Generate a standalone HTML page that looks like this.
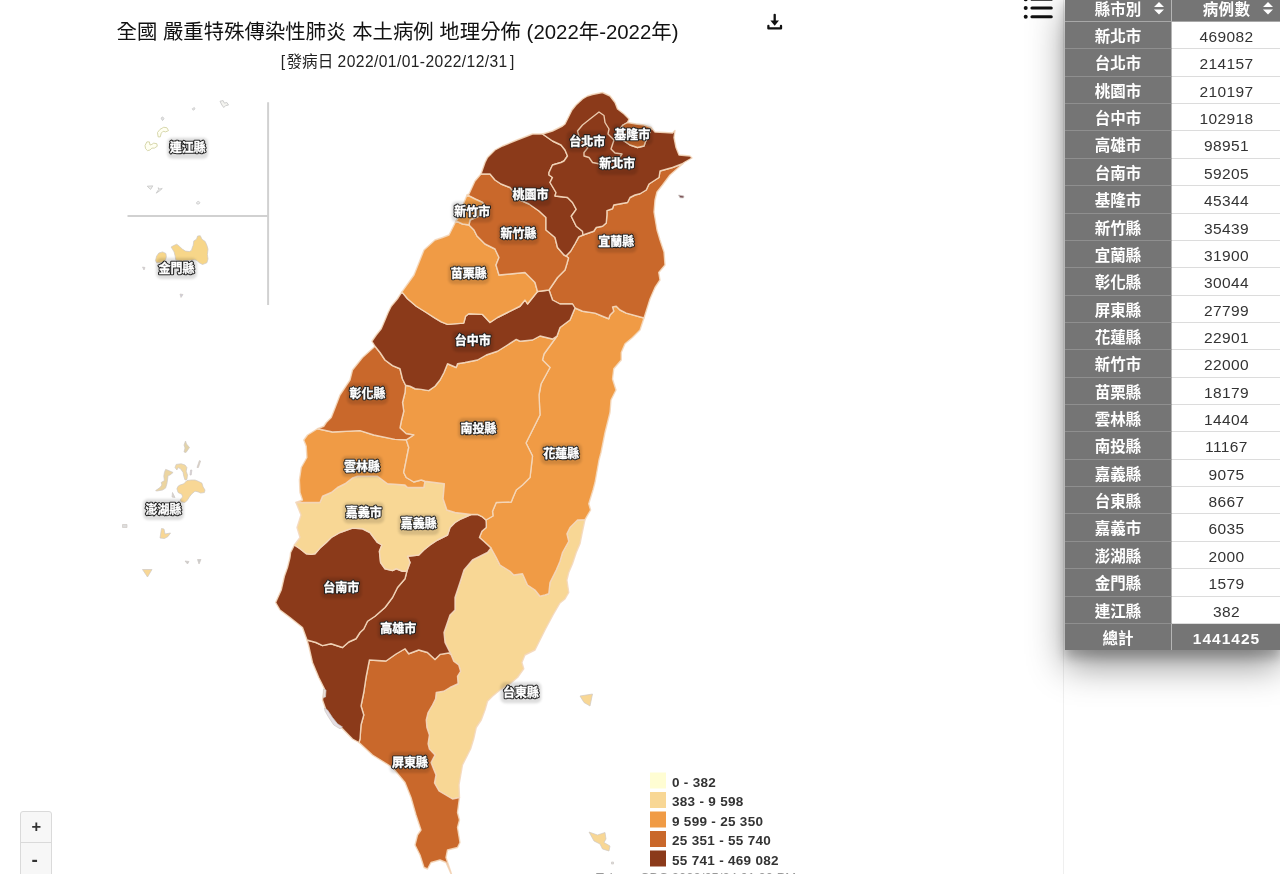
<!DOCTYPE html>
<html lang="zh-Hant"><head><meta charset="utf-8"><title>全國 嚴重特殊傳染性肺炎 本土病例 地理分佈</title>
<style>
html,body{margin:0;padding:0;background:#fff;}
body{width:1280px;height:874px;overflow:hidden;position:relative;font-family:"Liberation Sans","Noto Sans CJK TC",sans-serif;color:#333;}
#map{position:absolute;left:0;top:0;}
#title{position:absolute;left:0;top:16.5px;width:795px;text-align:center;font-size:20.4px;line-height:30px;color:#111;white-space:nowrap;}
#sub{position:absolute;left:0;top:50.1px;width:795px;text-align:center;font-size:15.6px;line-height:24px;color:#222;white-space:nowrap;}
#zoom{position:absolute;left:19.5px;top:811px;width:30.5px;border:1.3px solid #dadada;border-radius:3px;background:#f7f7f7;}
#zoom div{height:30.7px;line-height:28.6px;text-align:left;padding-left:11px;box-sizing:border-box;font-weight:bold;font-size:16.5px;color:#333;border-bottom:1.3px solid #dadada;}
#side{position:absolute;left:1063px;top:0;width:217px;height:874px;border-left:1px solid #efefef;}
#menu{position:absolute;left:1020px;top:-6px;}
#tbl{position:absolute;left:1065px;top:-5.37px;width:216px;box-shadow:0 16px 34px rgba(0,0,0,.42),0 8px 10px rgba(0,0,0,.2);font-size:15.5px;}
.r{display:flex;height:27.37px;line-height:29.4px;box-sizing:border-box;}
.r>div{box-sizing:border-box;text-align:center;white-space:nowrap;position:relative;}
.a{width:107px;background:#757575;color:#fff;font-weight:bold;border-bottom:1px solid #8f8f8f;border-right:1px solid #b5b5b5;}
.b{width:109px;background:#fff;color:#333;border-bottom:1px solid #dcdcdc;letter-spacing:.4px;}
.h .b,.t .b{background:#757575;color:#fff;font-weight:bold;border-bottom:1px solid #8f8f8f;}
.h .a,.h .b{border-bottom:1px solid #a8a8a8;}
.t{height:26.3px;line-height:29.4px;}
.t .b{letter-spacing:1px;}
.t .a,.t .b{border-bottom:0;}
.srt{position:absolute;top:7.8px;}
.h .a .srt{left:89.3px;}
.h .b .srt{left:90.8px;}
</style></head><body>
<svg id="map" width="1064" height="874" viewBox="0 0 1064 874">
<defs><filter id="lb" x="-20%" y="-40%" width="140%" height="200%"><feGaussianBlur stdDeviation="1.1"/></filter></defs>
<path d="M268.1 102.3V305M127.5 216H268.1" stroke="#d1d1d1" stroke-width="2" fill="none"/>
<polygon points="158.12,136.88 157.5,132.5 160,129.38 163.75,127.25 166.88,127.75 168.5,130.62 165.62,131.88 163.12,131.25 161.25,133.12 160.25,136.88" fill="#fffff2" stroke="#d3d3a4" stroke-width="0.9" stroke-linejoin="round"/>
<polygon points="145.62,148.75 145,145.62 146.88,141.88 149.38,141.88 150,145 151.88,144.38 153.75,143.12 156.88,143.75 157.25,146.25 154.38,148.12 151.88,148.12 150,150 147.5,150.62" fill="#fffff2" stroke="#d3d3a4" stroke-width="0.9" stroke-linejoin="round"/>
<polygon points="220,101.25 223.12,100.62 224.38,103.12 226.88,102.5 228.5,105 225.62,105.62 223.75,107.5 221.88,105" fill="#f4f4f0" stroke="#c8c8c8" stroke-width="0.9" stroke-linejoin="round"/>
<polygon points="192.25,108.75 194.38,107.5 195,109 193.12,110.25" fill="#e8e8e8" stroke="#cfcfcf" stroke-width="0.9" stroke-linejoin="round"/>
<polygon points="161,118.12 162.75,116.88 164,118.75 162.5,120.62" fill="#e4e4e4" stroke="#cccccc" stroke-width="0.9" stroke-linejoin="round"/>
<polygon points="147.25,186.25 152.75,185.88 150.62,189.38" fill="#f0f0ee" stroke="#c8c8c8" stroke-width="0.9" stroke-linejoin="round"/>
<polygon points="156.25,193.12 158.75,189.38 158.12,187.75 159.75,189 162.25,188.5 159.38,191" fill="#f0f0ee" stroke="#c8c8c8" stroke-width="0.9" stroke-linejoin="round"/>
<polygon points="196.5,202.5 198.12,201.25 200,202.5 199,204 196.88,204" fill="#ececec" stroke="#d0d0d0" stroke-width="0.9" stroke-linejoin="round"/>
<g stroke="#f4d8bc" stroke-opacity="0.9" stroke-width="1.4" stroke-linejoin="round">
<polygon points="585,519.6 582.5,531.25 580,543.75 576.25,552.5 572.5,563.75 568.75,572.5 566.9,580 568.75,592.5 565,599 560,603 553,615 545,630 540,640 535,650 525,655 521.9,662.5 523.75,668.75 517.5,677.5 510,683.75 500,690 492.5,696.25 487.5,701.25 485,710 481.25,720 476.25,727.5 473.75,738.75 470.6,749 462.5,765 459,785 459.5,797.5 459.5,797.5 452.5,799 439,791 434.5,783 436,775 431,762.5 435,755 429.4,749 428.1,743.75 429.4,735 426.9,727.5 426.25,720 428.1,712.5 432.5,705 435.6,698.75 436.25,692.5 443.75,691.25 450,687.5 458.1,683.75 457.5,676.25 460.6,671.25 458.75,665 453.75,661.25 451,654.5 451,654.5 445,642.5 444,632.5 450,615 455,610 455,597.5 460,582.5 464,570 472.5,560 487.5,552.5 491,548 491,548 496.25,557.5 500,565 510,571.25 513.75,575 522.5,573.75 527.5,585 535,590 540,596.25 545,595 548.75,593.75 550,582.5 556.25,570 560,561.25 562.5,552.5 568.75,541.25 566.9,533.75 570,527.5 577.5,520 585,519.6" fill="#f8d795"/>
<polygon points="644,318 640,330 632.5,337.5 625,343.75 621.25,352.5 621.25,360 613.75,368.75 612.5,379 616,390 611,400 610,412.5 605,432.5 601,452.5 599,460 595,482.5 593,490 588.75,503.75 590.6,510 585,519.6 585,519.6 577.5,520 570,527.5 566.9,533.75 568.75,541.25 562.5,552.5 560,561.25 556.25,570 550,582.5 548.75,593.75 545,595 540,596.25 535,590 527.5,585 522.5,573.75 513.75,575 510,571.25 500,565 496.25,557.5 491,548 491,548 483.75,541.25 479.4,537.5 481.9,531.25 486.25,527.5 486.25,523.75 486,520 486,520 493,516 492.5,511.25 496.25,502.5 511.25,502 513,497.5 516.25,490 522.5,485 530,477.5 532.5,456 526,443 532.5,430 540,415 539,395 541,384 550,367.5 542.5,360 544,354 557,336 557,336 560,327.5 570,320 575,308 575,308 582.5,311.25 595,313.1 602.5,316.25 608.75,318.75 610,315 613.75,311.25 612.5,306.9 616.25,306.25 620,310 626.25,313.1 644,318" fill="#f09b45"/>
<polygon points="683,163.5 678,168 670,175 662.5,185 657,192 655,200 654,212 657,230 660,240 664,252 665,265 658.75,272.5 660,280 655,287.5 650,299 644,318 644,318 626.25,313.1 620,310 616.25,306.25 612.5,306.9 613.75,311.25 610,315 608.75,318.75 602.5,316.25 595,313.1 582.5,311.25 575,308 575,308 572.5,304 560,304 552.5,300 549,290 549,290 557.5,277.5 560,275 565,270 566.9,263.75 568.5,258 566,256 566,256 570.6,251.25 575,243.75 578.75,236.9 583,235 583,235 593.75,231.25 596.25,227.5 602.5,226.25 606.25,223 606.9,215 606.9,210.6 612.5,208.75 613.75,205 627.5,202.5 630,197.5 635,195 640,193.75 646.25,190 649,184 659,177.5 660,171 672.5,167.5 683,163.5" fill="#c9682b"/>
<polygon points="459.5,797.5 457.5,812.5 459.5,820 457.5,827.5 460,842.5 457.5,847.5 447.5,850 446,857.5 451,872.5 452,876 446,862.5 440,860 431,862.5 427.5,869 424,867.5 420,855 415,845 417.5,835 421,830 416,815 411,797.5 405,782.5 392.5,767.5 372.5,755 359,742.5 359,742.5 360,739 361,725 363.75,715 361,706 363.75,692.5 366,677.5 369.4,660 386,661 396,654 405,648.75 408.75,653.75 418.75,650 427.5,652.5 435,659.4 440,654.4 448.75,653 451,654.5 451,654.5 453.75,661.25 458.75,665 460.6,671.25 457.5,676.25 458.1,683.75 450,687.5 443.75,691.25 436.25,692.5 435.6,698.75 432.5,705 428.1,712.5 426.25,720 426.9,727.5 429.4,735 428.1,743.75 429.4,749 435,755 431,762.5 436,775 434.5,783 439,791 452.5,799 459.5,797.5" fill="#c9682b"/>
<polygon points="359,742.5 352.5,739 342.5,728.75 333.75,722.5 326,710 322.5,700 324.4,688.75 318.75,677.5 312.5,662.5 308.75,646 307,640 307,640 316,642.5 322.5,645.6 331,643.75 342.5,647.5 348.75,642 356,638.75 360,632.5 363.75,629 367.5,621.25 375,616.25 385,607.5 392.5,597.5 397.5,587.5 405,578.75 406.9,571 406.9,571 410,562.5 407.5,556.25 418.75,555 423.75,550 430,545 437.5,540 442.5,537.5 447.5,535 450,527.5 455,522.5 461.25,518.75 471,514.5 471,514.5 477.5,514.4 482.5,516.9 486,520 486,520 486.25,523.75 486.25,527.5 481.9,531.25 479.4,537.5 483.75,541.25 491,548 491,548 487.5,552.5 472.5,560 464,570 460,582.5 455,597.5 455,610 450,615 444,632.5 445,642.5 451,654.5 451,654.5 448.75,653 440,654.4 435,659.4 427.5,652.5 418.75,650 408.75,653.75 405,648.75 396,654 386,661 369.4,660 366,677.5 363.75,692.5 361,706 363.75,715 361,725 360,739 359,742.5" fill="#8b3a1a"/>
<polygon points="307,640 302.5,627.5 290,617.5 280,610 275.6,602.5 281.25,590 284.4,576.25 287.5,567.5 290,557.5 290.6,552.5 294.4,545 294.4,545 300,548.75 306.25,553.75 311.25,554.4 315,553.75 320,548.1 326.25,542.5 331.25,537.5 340,532.5 352.5,528.1 362.5,528.75 370,532.5 373.75,537.5 377.5,542.5 381.9,545 379.4,551.25 380.6,562.5 385,568.75 392.5,570.6 396.25,568.75 402.5,571.25 406.9,571 406.9,571 405,578.75 397.5,587.5 392.5,597.5 385,607.5 375,616.25 367.5,621.25 363.75,629 360,632.5 356,638.75 348.75,642 342.5,647.5 331,643.75 322.5,645.6 316,642.5 307,640" fill="#8b3a1a"/>
<polygon points="294.4,545 300,537.5 297,527.5 301,515 296,502.5 296,502.5 320,502.5 322.5,496.25 331.25,492.5 337.5,487.5 345,483.75 352.5,478 357.5,476.25 377.5,476.25 382.5,480 387.5,483.75 405,485 407.5,487.5 423.75,487.5 425,481.25 425,481.25 444.4,483.75 443.1,498.75 446.9,510 455,512.5 471,514.5 471,514.5 461.25,518.75 455,522.5 450,527.5 447.5,535 442.5,537.5 437.5,540 430,545 423.75,550 418.75,555 407.5,556.25 410,562.5 406.9,571 406.9,571 402.5,571.25 396.25,568.75 392.5,570.6 385,568.75 380.6,562.5 379.4,551.25 381.9,545 377.5,542.5 373.75,537.5 370,532.5 362.5,528.75 352.5,528.1 340,532.5 331.25,537.5 326.25,542.5 320,548.1 315,553.75 311.25,554.4 306.25,553.75 300,548.75 294.4,545" fill="#f8d795"/>
<polygon points="296,502.5 302.5,500 300,492.5 299.4,480 301.25,467.5 306.9,457.5 306.25,446.25 303.75,440 307.5,435 317.5,428.75 317.5,428.75 332.5,432 360,430.6 373.75,435 395,439.4 406.25,439.8 406.25,439.8 408.75,447.5 406.25,460 403.75,472.5 406.25,477.5 413.75,482 421.25,480 425,481.25 425,481.25 423.75,487.5 407.5,487.5 405,485 387.5,483.75 382.5,480 377.5,476.25 357.5,476.25 352.5,478 345,483.75 337.5,487.5 331.25,492.5 322.5,496.25 320,502.5 296,502.5" fill="#f09b45"/>
<polygon points="405.6,385.3 410,386.25 415,388.75 421.25,389.4 428.75,390.6 435,386.25 440,380 444,372.5 447.5,363.75 456.25,367.5 457.5,363.75 465,362.5 477.5,360 486.25,355 497.5,351.25 507.5,345 516.25,339.4 520,341.25 532.5,340 540,336 552.5,339 557,336 557,336 544,354 542.5,360 550,367.5 541,384 539,395 540,415 532.5,430 526,443 532.5,456 530,477.5 522.5,485 516.25,490 513,497.5 511.25,502 496.25,502.5 492.5,511.25 493,516 486,520 486,520 482.5,516.9 477.5,514.4 471,514.5 471,514.5 455,512.5 446.9,510 443.1,498.75 444.4,483.75 425,481.25 425,481.25 421.25,480 413.75,482 406.25,477.5 403.75,472.5 406.25,460 408.75,447.5 406.25,439.8 406.25,439.8 413.75,435 406.25,433.75 400,428 401.25,421.25 403.75,411.25 402.5,402.5 405,392.5 405.6,385.3" fill="#f09b45"/>
<polygon points="317.5,428.75 323.75,426.25 326.25,422.5 331.25,417.5 335,408 340,395 350,380 352.5,370 362.5,357.5 375,346.25 375,346.25 380,352.5 385,360 392.5,365.6 400,368.75 402.5,379 405.6,385.3 405.6,385.3 405,392.5 402.5,402.5 403.75,411.25 401.25,421.25 400,428 406.25,433.75 413.75,435 406.25,439.8 406.25,439.8 395,439.4 373.75,435 360,430.6 332.5,432 317.5,428.75" fill="#c9682b"/>
<polygon points="375,346.25 371.9,341.25 376.25,335 381.25,328.75 385,320 388.1,312.5 391.25,306.25 397.5,298.75 401.9,291.9 401.9,291.9 407.5,298.75 416.25,306.25 426.25,312.5 435,318.1 441.25,321.9 447.5,324.4 463.75,323.1 465.6,316.25 468.75,313.75 482.5,314.4 490,322.5 497.5,317.5 507.5,312.5 520,306.25 525,300 527.5,304 537.5,291.5 537.5,291.5 549,290 549,290 552.5,300 560,304 572.5,304 575,308 575,308 570,320 560,327.5 557,336 557,336 552.5,339 540,336 532.5,340 520,341.25 516.25,339.4 507.5,345 497.5,351.25 486.25,355 477.5,360 465,362.5 457.5,363.75 456.25,367.5 447.5,363.75 444,372.5 440,380 435,386.25 428.75,390.6 421.25,389.4 415,388.75 410,386.25 405.6,385.3 405.6,385.3 402.5,379 400,368.75 392.5,365.6 385,360 380,352.5 375,346.25" fill="#8b3a1a"/>
<polygon points="401.9,291.9 414,275 424,250 435,240 442.5,237.5 449,235 456,221 456,221 462.5,224 469,225 469,225 474,230 477,236 485,244 495,249 499,257.5 496,265 499,275 510,274 525,272.5 535,282.5 537.5,291.5 537.5,291.5 527.5,304 525,300 520,306.25 507.5,312.5 497.5,317.5 490,322.5 482.5,314.4 468.75,313.75 465.6,316.25 463.75,323.1 447.5,324.4 441.25,321.9 435,318.1 426.25,312.5 416.25,306.25 407.5,298.75 401.9,291.9" fill="#f09b45"/>
<polygon points="467,195 469,194 475,181 481,174 481,174 490,174 495,180 501,184 510,187.5 520,200 529,204 539,211 546,217.5 546,230 555,237.5 557.5,247.5 564,255 566,256 566,256 568.5,258 566.9,263.75 565,270 560,275 557.5,277.5 549,290 549,290 537.5,291.5 537.5,291.5 535,282.5 525,272.5 510,274 499,275 496,265 499,257.5 495,249 485,244 477,236 474,230 469,225 469,225 470,220 479,216 486,208 482.5,202.5 475,199 467,195" fill="#c9682b"/>
<polygon points="456,221 460,215 464,202.5 467,195 467,195 475,199 482.5,202.5 486,208 479,216 470,220 469,225 469,225 462.5,224 456,221" fill="#f09b45"/>
<polygon points="481,174 485,162.5 487.5,157.5 495,150 502.5,146 517,140 532.5,134 542.5,134 542.5,134 552.5,141 561,145 565,150 567.5,156 564,161 561,162.5 552.5,165 549,172.5 549,175 552.5,177.5 550,182.5 556,192.5 555,196 567.5,197.5 572.5,202.5 576.25,209.4 571.25,216.25 576.25,226.25 582.5,231.25 583,235 583,235 578.75,236.9 575,243.75 570.6,251.25 566,256 566,256 564,255 557.5,247.5 555,237.5 546,230 546,217.5 539,211 529,204 520,200 510,187.5 501,184 495,180 490,174 481,174" fill="#8b3a1a"/>
<polygon points="542.5,134 552.5,131 562.5,126 565,124 569,116 572,110 576,105 582.5,99 587.5,96 592.5,94.5 602.5,92.5 610,96 615,102.5 617.5,109 624,114 629,119 627.5,122.5 627.5,122.5 623,125 620,129 619,136 624,141 630,145 637.5,147.5 644,146 645,143 647,138 650,132 651,127.5 651,127.5 655,132 665,132.5 672.5,133 675,130.5 674,137.5 676,147.5 679,155 690,156 692,158 684,162.5 683,163.5 683,163.5 672.5,167.5 660,171 659,177.5 649,184 646.25,190 640,193.75 635,195 630,197.5 627.5,202.5 613.75,205 612.5,208.75 606.9,210.6 606.9,215 606.25,223 602.5,226.25 596.25,227.5 593.75,231.25 583,235 583,235 582.5,231.25 576.25,226.25 571.25,216.25 576.25,209.4 572.5,202.5 567.5,197.5 555,196 556,192.5 550,182.5 552.5,177.5 549,175 549,172.5 552.5,165 561,162.5 564,161 567.5,156 565,150 561,145 552.5,141 542.5,134" fill="#8b3a1a"/>
<polygon points="627.5,122.5 636,124 644,125 651,127.5 651,127.5 650,132 647,138 645,143 644,146 637.5,147.5 630,145 624,141 619,136 620,129 623,125 627.5,122.5" fill="#c9682b"/>
<polygon points="599,112 604,115.5 605,122.5 609,129 608,134 614,140 611,149 615,153 622,154 620,157 612,158 606,160 600,164 592.5,162.5 589,157.5 584,156 584,152.5 588,147.5 583,142 579,137 577.5,131 582.5,125 590,119" fill="#8b3a1a"/>
</g>
<polygon points="580,696 592.5,694 590,706 584,702.5" fill="#f8d795" stroke="#cfc8c4" stroke-width="0.7" stroke-linejoin="round"/>
<polygon points="589,832 597.5,835 605,832.5 606,839 604,842.5 610,846 609,851 602.5,849 600,844 594,841" fill="#f8d795" stroke="#cfc8c4" stroke-width="0.7" stroke-linejoin="round"/>
<polygon points="611.5,862 613.5,862 613.5,864 611.5,864" fill="#ddd" stroke="#cfc8c4" stroke-width="0.7" stroke-linejoin="round"/>
<polygon points="324.4,708 327.5,710 332.5,717.5 337.5,723.75 342.5,727 340,728.75 333.75,725 328.75,717.5 325,711" fill="#e4dee4" stroke="#cfc8c4" stroke-width="0.7" stroke-linejoin="round"/>
<polygon points="323.5,689 326,690 325.5,697 323,697.5" fill="#eadfd8" stroke="#cfc8c4" stroke-width="0.7" stroke-linejoin="round"/>
<polygon points="678.5,195 684,196 683.5,198 680,197.8" fill="#7d5258" stroke="#cfc8c4" stroke-width="0.7" stroke-linejoin="round"/>
<polygon points="180,485 183.8,483.8 186.9,480.6 191.2,480 195,480 198.1,481.2 201.9,483.1 203.1,486.9 205,490 204.4,492.5 200.6,493.1 198.1,491.9 195,491.2 191.9,493.8 189.4,496.9 187.5,500 185,502.5 181.2,501.9 180,500 182.5,496.9 181.9,494.4 178.1,492.5 176.9,488.8 178.1,486.2" fill="#f8d795" stroke="#cfc8c4" stroke-width="0.7" stroke-linejoin="round"/>
<polygon points="175,467.5 176.2,464.4 181.2,463.8 185,465 186.9,467.5 186.2,471.2 187.5,475 186.9,479.4 185,480 183.8,476.2 183.1,472.5 180.6,468.8 178.1,467.5 176.9,470" fill="#f3d9a0" stroke="#cfc8c4" stroke-width="0.7" stroke-linejoin="round"/>
<polygon points="165.6,469.4 167.5,470 173.1,472.5 170,475 168.1,475.6 167.5,480 166.9,483.8 165.6,488.1 162.5,490 156.9,491 155.6,490.6 160,487.5 161.9,485 161.2,482.5 164.4,480.6 163.8,476.2 164.4,472.5" fill="#ecd5a0" stroke="#cfc8c4" stroke-width="0.7" stroke-linejoin="round"/>
<polygon points="190.6,470 191.9,470 191.2,475 190,475" fill="#d5cfe0" stroke="#cfc8c4" stroke-width="0.7" stroke-linejoin="round"/>
<polygon points="172.5,492.5 175,497.5 172,497" fill="#d8d4d0" stroke="#cfc8c4" stroke-width="0.7" stroke-linejoin="round"/>
<polygon points="185.5,441 186.5,444 189.5,447.5 186,452.5 184,452 185,448 184,445" fill="#e3d3a8" stroke="#cfc8c4" stroke-width="0.7" stroke-linejoin="round"/>
<polygon points="199.4,460.6 200.6,461 198.4,467.5 197,467.5" fill="#ddd2c4" stroke="#cfc8c4" stroke-width="0.7" stroke-linejoin="round"/>
<polygon points="161.5,528.5 164,529 165,534 170.5,533 168,536.5 164.5,538.5 160,538" fill="#f8d795" stroke="#cfc8c4" stroke-width="0.7" stroke-linejoin="round"/>
<polygon points="142.5,569.5 152,569.5 147.5,577" fill="#f8d795" stroke="#cfc8c4" stroke-width="0.7" stroke-linejoin="round"/>
<polygon points="185,561 189,561.5 187.5,564" fill="#ccc" stroke="#cfc8c4" stroke-width="0.7" stroke-linejoin="round"/>
<polygon points="197.5,559.5 201,559.5 199,564" fill="#ccc" stroke="#cfc8c4" stroke-width="0.7" stroke-linejoin="round"/>
<polygon points="122.5,524.5 127,524.5 127,527.5 122.5,527.5" fill="#ddd" stroke="#cfc8c4" stroke-width="0.7" stroke-linejoin="round"/>
<polygon points="155.5,260.6 156.6,256.2 158.8,253 162.6,251.9 165.9,253.5 166.4,256.8 165.3,260.6 160.9,262.8 156.6,262.8" fill="#f7d689" stroke="#cfc8c4" stroke-width="0.7" stroke-linejoin="round"/>
<polygon points="171.1,247 173.5,245.6 176.8,244.2 179.5,246.4 182.3,249.1 185.5,251.1 189.4,251.6 191.6,250.2 192.1,248 193.2,245.3 193.8,240.9 196.5,239.3 197.6,236 200.3,235.7 202,239.3 205.2,241.5 206.9,245.3 208,249.1 207.4,254.6 208,259 206.9,262.8 202.5,264.5 199.2,262.8 197,260.6 194.8,259.8 188.3,260.6 180.6,261.2 175.7,259.8 175.2,256.2 174.1,251.9 172.4,249.1" fill="#f7d689" stroke="#cfc8c4" stroke-width="0.7" stroke-linejoin="round"/>
<polygon points="142.5,267 145,267.5 144,270" fill="#ccd" stroke="#cfc8c4" stroke-width="0.7" stroke-linejoin="round"/>
<polygon points="180,294 183,294.5 181,297.5" fill="#ccd" stroke="#cfc8c4" stroke-width="0.7" stroke-linejoin="round"/>
<g font-family="'Liberation Sans','Noto Sans CJK TC',sans-serif" font-size="12" font-weight="bold" text-anchor="middle">
<rect x="167.2" y="137.8" width="41" height="21" rx="5" fill="#000" fill-opacity="0.13" filter="url(#lb)"/>
<rect x="156" y="258" width="41" height="21" rx="5" fill="#000" fill-opacity="0.13" filter="url(#lb)"/>
<rect x="143" y="499" width="41" height="21" rx="5" fill="#000" fill-opacity="0.13" filter="url(#lb)"/>
<rect x="566.7" y="131.1" width="41" height="21" rx="5" fill="#000" fill-opacity="0.13" filter="url(#lb)"/>
<rect x="611.7" y="124.25" width="41" height="21" rx="5" fill="#000" fill-opacity="0.13" filter="url(#lb)"/>
<rect x="596.7" y="153.9" width="41" height="21" rx="5" fill="#000" fill-opacity="0.13" filter="url(#lb)"/>
<rect x="510.1" y="184.9" width="41" height="21" rx="5" fill="#000" fill-opacity="0.13" filter="url(#lb)"/>
<rect x="451.7" y="201.5" width="41" height="21" rx="5" fill="#000" fill-opacity="0.13" filter="url(#lb)"/>
<rect x="497.9" y="223.6" width="41" height="21" rx="5" fill="#000" fill-opacity="0.13" filter="url(#lb)"/>
<rect x="595.75" y="231.75" width="41" height="21" rx="5" fill="#000" fill-opacity="0.13" filter="url(#lb)"/>
<rect x="448.25" y="263.3" width="41" height="21" rx="5" fill="#000" fill-opacity="0.13" filter="url(#lb)"/>
<rect x="452.3" y="330.9" width="41" height="21" rx="5" fill="#000" fill-opacity="0.13" filter="url(#lb)"/>
<rect x="347" y="383.5" width="41" height="21" rx="5" fill="#000" fill-opacity="0.13" filter="url(#lb)"/>
<rect x="458.1" y="418" width="41" height="21" rx="5" fill="#000" fill-opacity="0.13" filter="url(#lb)"/>
<rect x="540.75" y="443.5" width="41" height="21" rx="5" fill="#000" fill-opacity="0.13" filter="url(#lb)"/>
<rect x="341.5" y="456.1" width="41" height="21" rx="5" fill="#000" fill-opacity="0.13" filter="url(#lb)"/>
<rect x="343.25" y="502.4" width="41" height="21" rx="5" fill="#000" fill-opacity="0.13" filter="url(#lb)"/>
<rect x="398.25" y="513.9" width="41" height="21" rx="5" fill="#000" fill-opacity="0.13" filter="url(#lb)"/>
<rect x="320.75" y="577.4" width="41" height="21" rx="5" fill="#000" fill-opacity="0.13" filter="url(#lb)"/>
<rect x="377.75" y="618.5" width="41" height="21" rx="5" fill="#000" fill-opacity="0.13" filter="url(#lb)"/>
<rect x="500.4" y="682.2" width="41" height="21" rx="5" fill="#000" fill-opacity="0.13" filter="url(#lb)"/>
<rect x="389.5" y="752.1" width="41" height="21" rx="5" fill="#000" fill-opacity="0.13" filter="url(#lb)"/>
<text x="187.7" y="152.3" fill="none" stroke="#222" stroke-width="2.5" stroke-linejoin="round">連江縣</text>
<text x="187.7" y="152.3" fill="#fff" stroke="#fff" stroke-width="0.35">連江縣</text>
<text x="176.5" y="272.5" fill="none" stroke="#222" stroke-width="2.5" stroke-linejoin="round">金門縣</text>
<text x="176.5" y="272.5" fill="#fff" stroke="#fff" stroke-width="0.35">金門縣</text>
<text x="163.5" y="513.5" fill="none" stroke="#222" stroke-width="2.5" stroke-linejoin="round">澎湖縣</text>
<text x="163.5" y="513.5" fill="#fff" stroke="#fff" stroke-width="0.35">澎湖縣</text>
<text x="587.2" y="145.6" fill="none" stroke="#222" stroke-width="2.5" stroke-linejoin="round">台北市</text>
<text x="587.2" y="145.6" fill="#fff" stroke="#fff" stroke-width="0.35">台北市</text>
<text x="632.2" y="138.75" fill="none" stroke="#222" stroke-width="2.5" stroke-linejoin="round">基隆市</text>
<text x="632.2" y="138.75" fill="#fff" stroke="#fff" stroke-width="0.35">基隆市</text>
<text x="617.2" y="168.4" fill="none" stroke="#222" stroke-width="2.5" stroke-linejoin="round">新北市</text>
<text x="617.2" y="168.4" fill="#fff" stroke="#fff" stroke-width="0.35">新北市</text>
<text x="530.6" y="199.4" fill="none" stroke="#222" stroke-width="2.5" stroke-linejoin="round">桃園市</text>
<text x="530.6" y="199.4" fill="#fff" stroke="#fff" stroke-width="0.35">桃園市</text>
<text x="472.2" y="216" fill="none" stroke="#222" stroke-width="2.5" stroke-linejoin="round">新竹市</text>
<text x="472.2" y="216" fill="#fff" stroke="#fff" stroke-width="0.35">新竹市</text>
<text x="518.4" y="238.1" fill="none" stroke="#222" stroke-width="2.5" stroke-linejoin="round">新竹縣</text>
<text x="518.4" y="238.1" fill="#fff" stroke="#fff" stroke-width="0.35">新竹縣</text>
<text x="616.25" y="246.25" fill="none" stroke="#222" stroke-width="2.5" stroke-linejoin="round">宜蘭縣</text>
<text x="616.25" y="246.25" fill="#fff" stroke="#fff" stroke-width="0.35">宜蘭縣</text>
<text x="468.75" y="277.8" fill="none" stroke="#222" stroke-width="2.5" stroke-linejoin="round">苗栗縣</text>
<text x="468.75" y="277.8" fill="#fff" stroke="#fff" stroke-width="0.35">苗栗縣</text>
<text x="472.8" y="345.4" fill="none" stroke="#222" stroke-width="2.5" stroke-linejoin="round">台中市</text>
<text x="472.8" y="345.4" fill="#fff" stroke="#fff" stroke-width="0.35">台中市</text>
<text x="367.5" y="398" fill="none" stroke="#222" stroke-width="2.5" stroke-linejoin="round">彰化縣</text>
<text x="367.5" y="398" fill="#fff" stroke="#fff" stroke-width="0.35">彰化縣</text>
<text x="478.6" y="432.5" fill="none" stroke="#222" stroke-width="2.5" stroke-linejoin="round">南投縣</text>
<text x="478.6" y="432.5" fill="#fff" stroke="#fff" stroke-width="0.35">南投縣</text>
<text x="561.25" y="458" fill="none" stroke="#222" stroke-width="2.5" stroke-linejoin="round">花蓮縣</text>
<text x="561.25" y="458" fill="#fff" stroke="#fff" stroke-width="0.35">花蓮縣</text>
<text x="362" y="470.6" fill="none" stroke="#222" stroke-width="2.5" stroke-linejoin="round">雲林縣</text>
<text x="362" y="470.6" fill="#fff" stroke="#fff" stroke-width="0.35">雲林縣</text>
<text x="363.75" y="516.9" fill="none" stroke="#222" stroke-width="2.5" stroke-linejoin="round">嘉義市</text>
<text x="363.75" y="516.9" fill="#fff" stroke="#fff" stroke-width="0.35">嘉義市</text>
<text x="418.75" y="528.4" fill="none" stroke="#222" stroke-width="2.5" stroke-linejoin="round">嘉義縣</text>
<text x="418.75" y="528.4" fill="#fff" stroke="#fff" stroke-width="0.35">嘉義縣</text>
<text x="341.25" y="591.9" fill="none" stroke="#222" stroke-width="2.5" stroke-linejoin="round">台南市</text>
<text x="341.25" y="591.9" fill="#fff" stroke="#fff" stroke-width="0.35">台南市</text>
<text x="398.25" y="633" fill="none" stroke="#222" stroke-width="2.5" stroke-linejoin="round">高雄市</text>
<text x="398.25" y="633" fill="#fff" stroke="#fff" stroke-width="0.35">高雄市</text>
<text x="520.9" y="696.7" fill="none" stroke="#222" stroke-width="2.5" stroke-linejoin="round">台東縣</text>
<text x="520.9" y="696.7" fill="#fff" stroke="#fff" stroke-width="0.35">台東縣</text>
<text x="410" y="766.6" fill="none" stroke="#222" stroke-width="2.5" stroke-linejoin="round">屏東縣</text>
<text x="410" y="766.6" fill="#fff" stroke="#fff" stroke-width="0.35">屏東縣</text>
</g>
<g font-family="'Liberation Sans','Noto Sans CJK TC',sans-serif" font-size="13.5" letter-spacing="0.3" font-weight="bold" fill="#333">
<rect x="650" y="772.5" width="16" height="16" fill="#fffdd3"/>
<text x="672" y="786.9">0 - 382</text>
<rect x="650" y="792" width="16" height="16" fill="#f8d795"/>
<text x="672" y="806.4">383 - 9 598</text>
<rect x="650" y="811.5" width="16" height="16" fill="#f09b45"/>
<text x="672" y="825.9">9 599 - 25 350</text>
<rect x="650" y="831" width="16" height="16" fill="#c9682b"/>
<text x="672" y="845.4">25 351 - 55 740</text>
<rect x="650" y="850.5" width="16" height="16" fill="#8b3a1a"/>
<text x="672" y="864.9">55 741 - 469 082</text>
</g>
<text x="596" y="881.5" font-family="'Liberation Sans',sans-serif" font-size="13" fill="#999">Taiwan CDC 2023/05/24 01:30 PM</text>
<g fill="none" stroke="#111" stroke-width="2.3"><path d="M774.7 14.8V21" stroke-linecap="round"/><path d="M768.4 25.9V28.4H781V25.9" stroke-linecap="round" stroke-linejoin="round"/></g><path d="M770.4 20.6H779L774.7 25.7Z" fill="#111"/>
</svg>
<div id="title">全國 嚴重特殊傳染性肺炎 本土病例 地理分佈 (2022年-2022年)</div>
<div id="sub"><span style="margin-right:1.4px">[</span>發病日 <span style="letter-spacing:.42px">2022/01/01-2022/12/31</span><span style="margin-left:2.2px">]</span></div>
<div id="zoom"><div>+</div><div style="border-bottom:0;height:34px;font-size:19px;line-height:34px">-</div></div>
<div id="side"></div>
<svg id="menu" width="40" height="30" viewBox="0 0 40 30"><g fill="#111"><circle cx="5.7" cy="5.25" r="2"/><circle cx="5.7" cy="14" r="2"/><circle cx="5.7" cy="22.75" r="2"/></g><g stroke="#111" stroke-width="3.2" stroke-linecap="round"><path d="M12 5.25H31.2M12 14H31.2M12 22.75H31.2"/></g></svg>
<div id="tbl">
<div class="r h"><div class="a"><span>縣市別</span><svg class="srt" width="10" height="12.6" viewBox="0 0 10 12.6"><path d="M5 0L10 5H0ZM5 12.6L10 7.4H0Z" fill="#fff"/></svg></div><div class="b"><span>病例數</span><svg class="srt" width="10" height="12.6" viewBox="0 0 10 12.6"><path d="M5 0L10 5H0ZM5 12.6L10 7.4H0Z" fill="#fff"/></svg></div></div>
<div class="r"><div class="a">新北市</div><div class="b">469082</div></div>
<div class="r"><div class="a">台北市</div><div class="b">214157</div></div>
<div class="r"><div class="a">桃園市</div><div class="b">210197</div></div>
<div class="r"><div class="a">台中市</div><div class="b">102918</div></div>
<div class="r"><div class="a">高雄市</div><div class="b">98951</div></div>
<div class="r"><div class="a">台南市</div><div class="b">59205</div></div>
<div class="r"><div class="a">基隆市</div><div class="b">45344</div></div>
<div class="r"><div class="a">新竹縣</div><div class="b">35439</div></div>
<div class="r"><div class="a">宜蘭縣</div><div class="b">31900</div></div>
<div class="r"><div class="a">彰化縣</div><div class="b">30044</div></div>
<div class="r"><div class="a">屏東縣</div><div class="b">27799</div></div>
<div class="r"><div class="a">花蓮縣</div><div class="b">22901</div></div>
<div class="r"><div class="a">新竹市</div><div class="b">22000</div></div>
<div class="r"><div class="a">苗栗縣</div><div class="b">18179</div></div>
<div class="r"><div class="a">雲林縣</div><div class="b">14404</div></div>
<div class="r"><div class="a">南投縣</div><div class="b">11167</div></div>
<div class="r"><div class="a">嘉義縣</div><div class="b">9075</div></div>
<div class="r"><div class="a">台東縣</div><div class="b">8667</div></div>
<div class="r"><div class="a">嘉義市</div><div class="b">6035</div></div>
<div class="r"><div class="a">澎湖縣</div><div class="b">2000</div></div>
<div class="r"><div class="a">金門縣</div><div class="b">1579</div></div>
<div class="r"><div class="a">連江縣</div><div class="b">382</div></div>
<div class="r t"><div class="a">總計</div><div class="b">1441425</div></div>
</div>
</body></html>
